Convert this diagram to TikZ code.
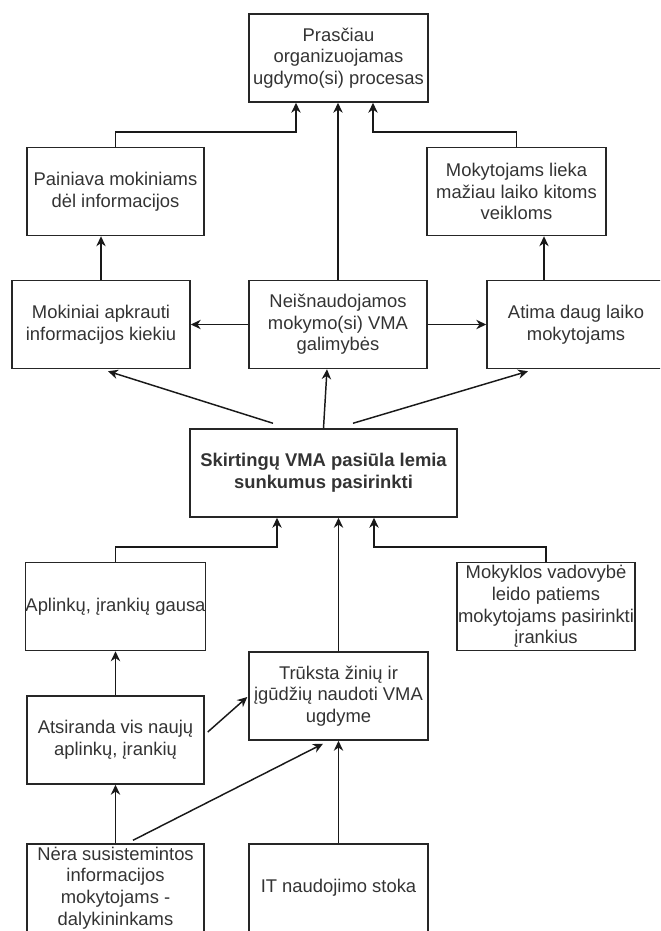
\documentclass[tikz,border=0pt]{standalone}
\usepackage{fontspec}
\setmainfont{Liberation Sans}
\usetikzlibrary{arrows.meta,calc}
\def\px{0.75pt}
\tikzset{
  box/.style={draw=black!85, line width=1.1pt, rectangle, inner sep=0pt,
    minimum width=178*\px, minimum height=88*\px, align=center,
    text=black!80, font=\fontsize{13.8pt}{16.2pt}\selectfont},
  arr/.style={draw=black!90, line width=1.1pt,
    -{Stealth[length=7.5pt,width=7pt,inset=2.4pt]}},
}
\begin{document}
\begin{tikzpicture}[x=0.75pt,y=-0.75pt]
\useasboundingbox (0,0) rectangle (660,931);
\clip (0,0) rectangle (660,931);

% row 1
\node[box, minimum width=179*\px] (top) at (338.5,58) {Prasčiau\\organizuojamas\\ugdymo(si) procesas};
% row 2
\node[box, minimum width=177*\px] (pain) at (115.5,191.5) {Painiava mokiniams\\dėl informacijos};
\node[box, minimum width=179*\px] (mokyt) at (516.5,191.5) {Mokytojams lieka\\mažiau laiko kitoms\\veikloms};
% row 3
\node[box] (mok) at (101,324.5) {Mokiniai apkrauti\\informacijos kiekiu};
\node[box] (neisn) at (338,324.5) {Neišnaudojamos\\mokymo(si) VMA\\galimybės};
\node[box] (atima) at (576,324.5) {Atima daug laiko\\mokytojams};
% central problem
\node[box, minimum width=267*\px, font=\fontsize{13.8pt}{16.2pt}\selectfont\bfseries] (skirt) at (323.5,473) {Skirtingų VMA pasiūla lemia\\sunkumus pasirinkti};
% causes
\node[box, minimum width=177*\px] (aplink) at (115.5,606.5) {Aplinkų, įrankių gausa};
\node[box] (mokykl) at (546,606.5) {Mokyklos vadovybė\\leido patiems\\mokytojams pasirinkti\\įrankius};
\node[box, minimum width=179*\px] (trukst) at (338.5,696) {Trūksta žinių ir\\įgūdžių naudoti VMA\\ugdyme};
\node[box, minimum width=177*\px] (atsir) at (115.5,740) {Atsiranda vis naujų\\aplinkų, įrankių};
\node[box, minimum width=177*\px] (nera) at (115.5,888) {Nėra susistemintos\\informacijos\\mokytojams -\\dalykininkams};
\node[box, minimum width=179*\px] (it) at (338.5,888) {IT naudojimo stoka};

% consequences into the top box
\draw[arr] (pain.north) -- ++(0,-15) -| ($(top.south)+(-42.5,0)$);
\draw[arr] (neisn.north) -- (neisn.north |- top.south);
\draw[arr] (mokyt.north) -- ++(0,-15) -| ($(top.south)+(34.5,0)$);

% row 3 to row 2
\draw[arr] (mok.north) -- (mok.north |- pain.south);
\draw[arr] ($(atima.north)+(-32,0)$) -- ($(mokyt.south)+(27.5,0)$);
\draw[arr] (neisn.west) -- (mok.east);
\draw[arr] (neisn.east) -- (atima.west);

% central problem to row 3
\draw[arr] ($(skirt.north)+(-50.5,-5)$) -- ($(mok.south)+(7,2)$);
\draw[arr] (skirt.north) -- ($(neisn.south)+(-11,0)$);
\draw[arr] ($(skirt.north)+(29.5,-5)$) -- ($(atima.south)+(-48,2)$);

% causes into the central problem
\draw[arr] (aplink.north) -- ++(0,-15) -| ($(skirt.south)+(-46.5,0)$);
\draw[arr] (trukst.north) -- (trukst.north |- skirt.south);
\draw[arr] (mokykl.north) -- ++(0,-15) -| ($(skirt.south)+(50.5,0)$);

% lower causes
\draw[arr] (atsir.north) -- (aplink.south);
\draw[arr] ($(atsir.east)+(3,-8)$) -- ($(trukst.west)+(-1,1)$);
\draw[arr] (nera.north) -- (atsir.south);
\draw[arr] ($(nera.north)+(17.5,-3)$) -- ($(trukst.south)+(-15.5,3)$);
\draw[arr] (it.north) -- (trukst.south);
\end{tikzpicture}
\end{document}
